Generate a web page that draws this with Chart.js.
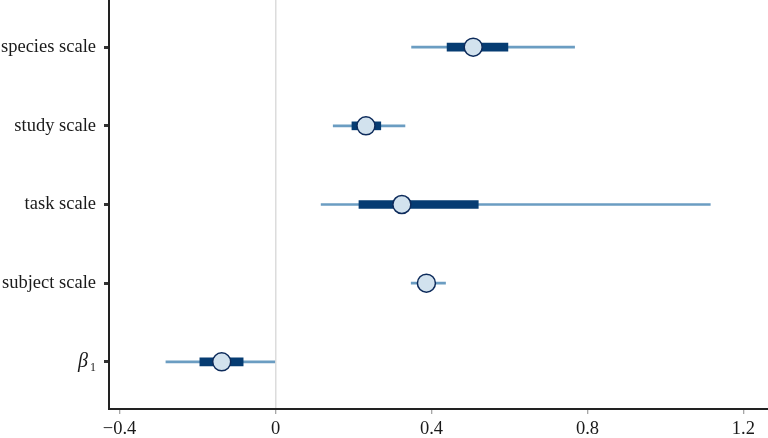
<!DOCTYPE html>
<html lang="en">
<head>
  <meta charset="UTF-8">
  <title>Scale estimates</title>
  <script src="https://cdn.jsdelivr.net/npm/chart.js"></script>
  <style>
    body { margin: 0; background: #fff; }
    #wrap { width: 768px; height: 438px; }
  </style>
</head>
<body>
  <div id="wrap"><canvas id="forest" width="768" height="438"></canvas></div>

  <script>
    // rows, top to bottom
    const categories = ['species scale', 'study scale', 'task scale', 'subject scale', 'β1'];
    const pointEst = [0.507, 0.232, 0.324, 0.387, -0.138];
    const innerLo  = [0.440, 0.196, 0.214, 0.370, -0.194];
    const innerHi  = [0.596, 0.270, 0.520, 0.404, -0.083];
    const outerLo  = [0.349, 0.148, 0.117, 0.348, -0.281];
    const outerHi  = [0.767, 0.332, 1.115, 0.436, 0.000];
    const xTicks = [-0.4, 0, 0.4, 0.8, 1.2];

    const serif = "'Liberation Serif', 'DejaVu Serif', serif";
    const inkColor = '#1a1a1a';

    const thinData = categories.map((c, i) => ({ x: [outerLo[i], outerHi[i]], y: i }));
    const thickData = categories.map((c, i) => ({ x: [innerLo[i], innerHi[i]], y: i }));
    const pointData = categories.map((c, i) => ({ x: pointEst[i], y: i }));

    // draw the beta label by hand (italic beta + small upright 1)
    const betaLabel = {
      id: 'betaLabel',
      afterDraw(chart) {
        const yScale = chart.scales.y;
        const idx = categories.indexOf('β1');
        const y = yScale.getPixelForValue(idx);
        const ctx = chart.ctx;
        ctx.save();
        ctx.fillStyle = inkColor;
        ctx.textBaseline = 'alphabetic';
        ctx.textAlign = 'left';
        ctx.font = 'italic 20px ' + serif;
        ctx.fillText('β', 78, y + 5);
        ctx.font = '12px ' + serif;
        ctx.fillText('1', 90, y + 9);
        ctx.restore();
      }
    };

    new Chart(document.getElementById('forest').getContext('2d'), {
      type: 'bar',
      data: {
        datasets: [
          {
            type: 'scatter',
            label: 'estimate',
            data: pointData,
            pointRadius: 9,
            pointHoverRadius: 9,
            pointBackgroundColor: '#d2e2ee',
            pointBorderColor: '#0d2b5b',
            pointBorderWidth: 1.5,
            showLine: false,
            order: 0
          },
          {
            label: 'inner interval',
            indexAxis: 'y',
            data: thickData,
            backgroundColor: '#063c72',
            barThickness: 8,
            grouped: false,
            order: 1
          },
          {
            label: 'outer interval',
            indexAxis: 'y',
            data: thinData,
            backgroundColor: '#6b9dc2',
            barThickness: 2,
            grouped: false,
            order: 2
          }
        ]
      },
      options: {
        responsive: false,
        animation: false,
        layout: { padding: 0, autoPadding: false },
        plugins: {
          legend: { display: false },
          tooltip: { enabled: false }
        },
        scales: {
          x: {
            type: 'linear',
            offset: false,
            min: -0.427,
            max: 1.263,
            afterBuildTicks: (scale) => { scale.ticks = xTicks.map(v => ({ value: v })); },
            afterFit: (scale) => {
              scale.height = 29;
              scale.paddingLeft = 0;
              scale.paddingRight = 0;
            },
            border: { display: true, color: '#222', width: 2 },
            grid: {
              offset: false,
              drawOnChartArea: true,
              color: (ctx) => (ctx.tick && ctx.tick.value === 0) ? '#dcdcdc' : 'rgba(0,0,0,0)',
              lineWidth: 1.5,
              tickColor: '#8a8a8a',
              tickWidth: 1,
              tickLength: 5
            },
            ticks: {
              padding: 4,
              color: inkColor,
              font: { family: serif, size: 18.5 },
              callback: (v) => v === 0 ? '0' : (v < 0 ? '\u2212' + Math.abs(v).toFixed(1) : v.toFixed(1))
            }
          },
          y: {
            type: 'linear',
            offset: false,
            reverse: true,
            min: -0.6,
            max: 4.6,
            afterBuildTicks: (scale) => { scale.ticks = categories.map((c, i) => ({ value: i })); },
            afterFit: (scale) => {
              scale.width = 109;
              scale.paddingTop = 0;
              scale.paddingBottom = 0;
            },
            border: { display: true, color: '#222', width: 2 },
            grid: {
              offset: false,
              drawOnChartArea: false,
              tickColor: '#333',
              tickWidth: 3,
              tickLength: 5
            },
            ticks: {
              padding: 8,
              color: inkColor,
              font: { family: serif, size: 18.5 },
              callback: (v) => categories[v] === 'β1' ? '' : categories[v]
            }
          }
        }
      },
      plugins: [betaLabel]
    });
  </script>
</body>
</html>
